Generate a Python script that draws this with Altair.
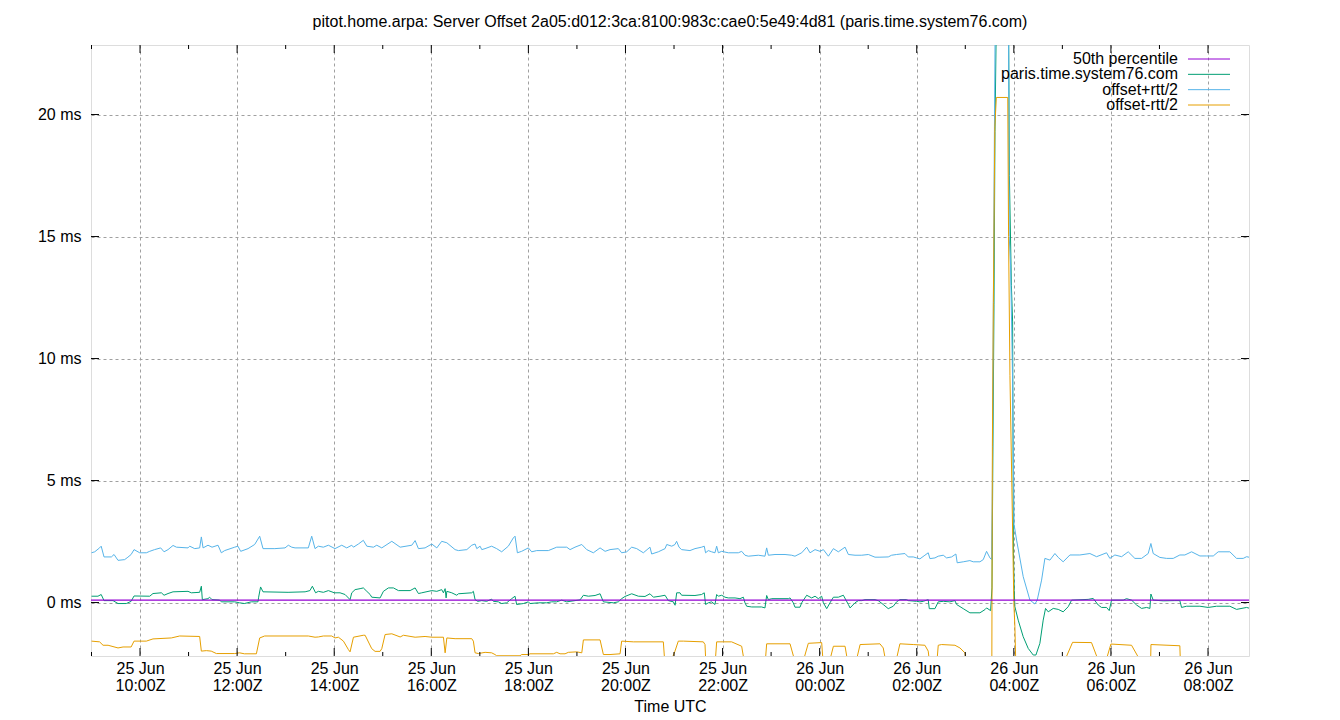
import altair as alt
import pandas as pd

# minutes after 25 Jun 09:00 UTC, value in ms
offset_pts = [
    (0, 0.26), (8, 0.26), (12, 0.33), (15.5, 0.08), (26.6, 0.08), (32.8, -0.04), (43, -0.04), (49, 0.05),
    (52.6, 0.27), (72, 0.26), (76, 0.37), (86.4, 0.40), (89.7, 0.30), (94.6, 0.37), (100.8, 0.44), (119.3, 0.46),
    (123.4, 0.40), (133.7, 0.42), (135.8, 0.67), (137, 0.12), (144, 0.16), (146, 0.22), (149, 0.12), (158.4, 0.10),
    (160.5, 0.03), (177, 0.03), (183, -0.01), (189, -0.04), (197.6, 0.03), (205.8, 0.03), (206.6, 0.22), (209, 0.64),
    (212, 0.44), (243, 0.42), (264, 0.44), (270, 0.49), (273, 0.67), (277, 0.40), (280.4, 0.46), (286.6, 0.42),
    (292.8, 0.49), (300.2, 0.40), (307.2, 0.40), (313.4, 0.33), (319.6, 0.12), (321.7, 0.40), (325.8, 0.53),
    (332, 0.57), (336, 0.60), (340.3, 0.46), (344.4, 0.33), (346.4, 0.22), (356.7, 0.19), (360.8, 0.46), (367, 0.60),
    (373.2, 0.60), (379.4, 0.49), (393.8, 0.49), (400, 0.60), (404.1, 0.37), (408.2, 0.40), (420.6, 0.49),
    (426.8, 0.46), (432.9, 0.53), (435, 0.40), (437.1, 0.57), (438.3, 0.19), (439.2, 0.46), (445.3, 0.40),
    (451.5, 0.30), (453.5, 0.36), (470, 0.40), (472, 0.46), (474.1, 0.12), (477.4, 0.05), (482.4, 0.08),
    (488.4, 0.05), (494.6, 0.14), (496.7, 0.05), (502.9, 0.03), (507, -0.04), (513.2, -0.01), (519.4, 0.16),
    (523.5, 0.26), (525.5, -0.08), (533.8, -0.04), (540, 0.03), (542, -0.04), (552.3, -0.01), (562.6, -0.01),
    (568.8, 0.03), (575, 0.03), (581.2, 0.10), (587.4, 0.03), (603.9, 0.11), (608, 0.30), (614.2, 0.26),
    (622.4, 0.29), (628.6, 0.36), (632.7, 0.03), (645, -0.01), (651.2, 0.03), (655.3, 0.16), (659.4, 0.25),
    (667.7, 0.36), (675.9, 0.26), (684.1, 0.25), (690.3, 0.36), (694.5, 0.22), (702.7, 0.26), (708.9, 0.30),
    (713, 0.08), (719.2, 0.03), (721.3, -0.11), (723.3, 0.40), (727.4, 0.40), (729.4, 0.30), (745.9, 0.29),
    (754.1, 0.33), (757.4, 0.40), (759, -0.08), (762.4, -0.01), (766.5, 0.03), (770.6, -0.08), (772.7, 0.33),
    (774.8, 0.26), (778.9, 0.30), (783, 0.22), (787.1, 0.19), (795.4, 0.19), (801.5, 0.16), (805.7, 0.22),
    (807.7, -0.01), (809.8, -0.15), (816, -0.18), (828.3, -0.18), (832.4, -0.22), (834.5, 0.29), (836.6, 0.12),
    (840.7, 0.16), (861.3, 0.16), (863.4, 0.19), (867.4, -0.01), (869.5, -0.19), (875.7, -0.19), (877.8, -0.01),
    (884, 0.30), (890.1, 0.19), (894.3, 0.26), (898.4, 0.16), (902.5, 0.26), (904.6, -0.01), (908.7, -0.25),
    (912.8, -0.01), (917, 0.22), (923.1, 0.22), (929.3, 0.30), (935.5, -0.08), (937.6, -0.22), (943.7, -0.01),
    (947.8, 0.08), (952, 0.08), (956.1, 0.12), (968.4, 0.12), (972.4, 0.08), (978.6, -0.08), (984.8, -0.25),
    (991, -0.15), (995.1, 0.03), (999.2, 0.12), (1007.5, 0.12), (1009.5, 0.08), (1019.8, 0.05), (1023.9, 0.03),
    (1028, 0.05), (1034.2, 0.12), (1035.5, -0.25), (1042.5, -0.25), (1046.6, 0.03), (1052.8, 0.05), (1061, 0.03),
    (1067.2, 0.08), (1069.3, -0.08), (1077.5, -0.25), (1085.7, -0.42), (1098.1, -0.42), (1104.3, -0.29),
    (1106.3, -0.22), (1111.3, -0.33), (1113, 0.6), (1114.2, 6.5), (1115.5, 12.2), (1116.7, 19.3), (1118, 22.85),
    (1119, 25.5), (1125, 27), (1131, 26), (1133.5, 24), (1134.5, 17.5), (1137, 13.0), (1138.5, 11.5),
    (1139.5, 2.0), (1140.5, 0.5), (1141.3, -0.17), (1145.4, -0.72), (1151.6, -1.40), (1157.8, -1.88),
    (1164, -2.15), (1167.3, -2.15), (1172.2, -1.67), (1176.3, -0.72), (1179.2, -0.24), (1182.5, -0.38),
    (1188.7, -0.24), (1194.9, -0.28), (1201, -0.38), (1207.2, -0.17), (1211.4, 0.10), (1231.9, 0.13),
    (1238.1, 0.17), (1244.3, -0.10), (1248.4, -0.20), (1254.6, -0.20), (1257.9, -0.33), (1260.8, 0.10),
    (1275.2, 0.10), (1279.3, 0.16), (1285.5, 0.10), (1291.7, -0.10), (1297.9, -0.24), (1304.1, -0.20),
    (1308.2, -0.24), (1309.4, 0.35), (1312.3, 0.10), (1324.6, 0.07), (1339, 0.08), (1345.2, 0.08),
    (1347.3, -0.20), (1353.5, -0.15), (1370, -0.15), (1380.2, -0.20), (1390.6, -0.15), (1407, -0.15),
    (1415.3, -0.28), (1427.7, -0.20), (1431.8, -0.24),
]

plus_pts = [
    (0, 2.04), (4, 2.08), (10, 2.24), (12, 2.31), (15.5, 1.87), (24.6, 1.87), (27.9, 1.97), (32.8, 1.73),
    (41, 1.76), (45, 1.86), (49, 1.97), (52.6, 2.17), (59.6, 2.04), (67.8, 2.04), (72, 2.10), (78, 2.17),
    (85.5, 2.24), (89.7, 2.08), (94.6, 2.17), (100.8, 2.34), (105, 2.27), (119.3, 2.24), (121.4, 2.31),
    (127.6, 2.21), (133.7, 2.24), (135.8, 2.69), (137.9, 2.24), (144, 2.35), (149, 2.27), (156.4, 2.35),
    (160.5, 2.04), (164.6, 2.13), (177, 2.27), (181, 2.31), (184.4, 2.10), (193.5, 2.21), (201.7, 2.38),
    (207.9, 2.72), (212, 2.21), (226.6, 2.21), (239.2, 2.24), (243.3, 2.35), (247.5, 2.27), (251.6, 2.24),
    (268, 2.24), (272.2, 2.72), (276.3, 2.21), (280.4, 2.31), (286.6, 2.27), (292.8, 2.35), (301, 2.21),
    (309.3, 2.35), (315.5, 2.24), (321.7, 2.35), (323.8, 2.27), (329.9, 2.40), (336, 2.55), (340.3, 2.31),
    (348.5, 2.27), (352.6, 2.35), (358.8, 2.24), (371.2, 2.51), (381.5, 2.27), (395.9, 2.35), (400, 2.54),
    (404.1, 2.21), (412.3, 2.24), (420.6, 2.40), (426.8, 2.24), (432.9, 2.51), (439.2, 2.45), (449.4, 2.17),
    (453.5, 2.13), (463.9, 2.17), (470, 2.35), (474.1, 2.40), (476.2, 2.21), (480.3, 2.31), (482.4, 2.17),
    (486.4, 2.21), (494.6, 2.31), (500.8, 2.21), (507, 2.08), (515.2, 2.31), (521.4, 2.65), (523.5, 2.72),
    (526.4, 2.04), (531.7, 2.10), (540, 2.24), (544.1, 2.08), (550.3, 2.13), (564.7, 2.13), (575, 2.27),
    (587.4, 2.27), (591.5, 2.17), (597.6, 2.27), (606, 2.38), (612.1, 2.17), (620.3, 2.04), (628.6, 2.24),
    (634.8, 2.10), (640.9, 2.17), (651.2, 2.21), (655.3, 2.04), (661.5, 2.08), (667.7, 2.27), (673.9, 2.21),
    (682.1, 2.04), (690.3, 2.27), (692.4, 1.99), (700.6, 2.08), (708.9, 2.21), (711, 2.38), (717.2, 2.31),
    (721.2, 2.38), (723.2, 2.51), (726.2, 2.27), (729.4, 2.17), (739.7, 2.13), (745.9, 2.21), (754.1, 2.27),
    (757.4, 2.31), (759, 2.04), (762.4, 2.13), (766.5, 2.08), (770.6, 2.04), (772.7, 2.31), (774.8, 2.04),
    (778.9, 2.10), (787.1, 2.04), (799.5, 2.04), (803.6, 2.10), (807.7, 1.94), (811.8, 1.90), (824.2, 1.94),
    (832.4, 1.90), (834.5, 2.24), (836.6, 1.94), (844.8, 1.97), (857.2, 1.97), (865.4, 1.94), (869.5, 1.90),
    (877.8, 2.04), (884, 2.27), (888.1, 2.04), (894.3, 2.17), (900.4, 2.10), (904.6, 2.17), (910.8, 1.90),
    (917, 2.21), (923.1, 2.08), (931.4, 2.27), (935.5, 1.97), (943.7, 1.94), (952, 1.94), (960.2, 1.97),
    (968.4, 1.86), (974.5, 1.86), (984.8, 1.87), (988.9, 1.94), (995.1, 1.97), (1005.4, 2.01), (1009.5, 1.87),
    (1015.7, 1.87), (1019.8, 1.83), (1023.9, 1.79), (1030.1, 1.94), (1034.2, 2.04), (1036.3, 1.80),
    (1042.5, 1.83), (1046.6, 1.90), (1052.8, 1.94), (1056.9, 1.83), (1063.1, 1.87), (1068.4, 1.99),
    (1070, 1.63), (1077.5, 1.67), (1085.7, 1.72), (1089.8, 1.67), (1098.1, 1.67), (1102.2, 1.76),
    (1106.3, 2.10), (1110.5, 1.83), (1112.5, 1.76), (1113.5, 5.0), (1114.7, 12.3), (1116, 19.3), (1117, 24),
    (1125, 27), (1133.3, 26), (1134.3, 15.0), (1136, 13.8), (1138.5, 9.1), (1140.3, 3.2), (1143.4, 2.56),
    (1151.6, 1.06), (1159.9, 0.10), (1166.1, -0.06), (1168.9, 0.10), (1174.3, 0.92), (1178.4, 1.81),
    (1184.6, 1.74), (1190.8, 2.01), (1194.9, 1.85), (1201, 1.67), (1209.3, 1.95), (1221.6, 1.95), (1234, 2.01),
    (1242.3, 1.88), (1254.6, 2.04), (1258.7, 1.81), (1264.9, 1.95), (1273.2, 1.88), (1281.4, 2.08),
    (1289.6, 1.81), (1297.9, 1.81), (1306.1, 2.01), (1309.4, 2.42), (1312.3, 2.01), (1320.5, 1.85),
    (1328.8, 1.81), (1337, 1.81), (1345.2, 1.95), (1351.4, 1.95), (1359.7, 2.08), (1370, 1.91), (1378.2, 1.91),
    (1386.5, 1.91), (1392.6, 2.08), (1407, 2.08), (1415.3, 1.81), (1423.5, 1.81), (1427.7, 1.88), (1431.8, 1.85),
]

minus_pts = [
    (0, -1.58), (10, -1.61), (14.3, -1.75), (20.5, -1.75), (32.8, -1.86), (39, -1.82), (49, -1.82),
    (52.6, -1.58), (67.8, -1.58), (76, -1.49), (98.7, -1.45), (109, -1.37), (133.7, -1.39), (135.8, -1.99),
    (142, -1.97), (148, -1.99), (154.4, -2.09), (177, -2.09), (183, -2.06), (189, -2.10), (203.8, -2.10),
    (207.9, -1.45), (214, -1.37), (268, -1.37), (276.3, -1.42), (280.4, -1.41), (286.6, -1.37), (296.9, -1.37),
    (301, -1.45), (305.2, -1.42), (311.4, -1.58), (317.6, -1.93), (319.6, -2.02), (323.8, -1.42), (336, -1.34),
    (338.2, -1.34), (346.4, -1.89), (350.5, -2.0), (356.7, -2.0), (358.8, -1.89), (362.9, -1.31), (371.2, -1.28),
    (381.5, -1.41), (385.6, -1.34), (400, -1.42), (412.3, -1.39), (420.6, -1.42), (435, -1.42), (437.1, -2.06),
    (439.2, -1.45), (449.4, -1.48), (470, -1.48), (472, -1.58), (474.1, -2.06), (478.3, -2.09), (486.5, -2.04),
    (494.6, -2.06), (498.7, -2.13), (500.8, -2.18), (529.7, -2.18), (531.7, -2.13), (540, -2.13), (542, -2.10),
    (570.9, -2.10), (575, -2.04), (579.1, -2.10), (585.3, -2.10), (589.4, -2.04), (599.7, -2.02), (606, -2.06),
    (608, -1.53), (628.6, -1.53), (632.7, -2.13), (640.9, -2.13), (653.3, -2.10), (655.3, -1.58), (669.7, -1.61),
    (706.8, -1.61), (708.9, -2.6), (714, -2.6), (721.2, -1.99), (725.3, -1.58), (731.5, -1.58), (756.2, -1.61),
    (758.3, -1.72), (759.5, -2.6), (770.6, -2.6), (772.7, -1.61), (791.2, -1.61), (803.6, -1.79), (807.7, -2.6),
    (832.4, -2.6), (834.5, -1.69), (863.4, -1.69), (871, -2.6), (878, -2.6), (886, -1.67), (902.5, -1.64),
    (904.6, -2.6), (910.8, -2.6), (917, -1.79), (931.4, -1.79), (935.5, -2.6), (943.7, -2.6), (950, -1.72),
    (974.5, -1.69), (978.6, -1.86), (982.7, -2.6), (993, -2.6), (999.2, -1.69), (1015.7, -1.72),
    (1030.1, -1.75), (1034.2, -1.99), (1036.3, -2.6), (1044.5, -2.6), (1046.6, -1.75), (1050.7, -1.72),
    (1067.2, -1.75), (1073.4, -1.86), (1079.5, -2.06), (1082, -2.6), (1112.8, -2.6), (1113.5, 6.4),
    (1114.7, 12.3), (1116.5, 19.5), (1118.4, 20.7), (1132.5, 20.7), (1133.5, 15.0), (1135.2, 9.3),
    (1137.6, 4.7), (1140, 0.0), (1141.3, -0.99), (1142.5, -2.6), (1200, -2.6), (1212.6, -1.63), (1236, -1.64),
    (1247, -2.6), (1252, -2.6), (1260, -1.70), (1285.5, -1.75), (1300, -2.6), (1309, -2.6), (1309.5, -1.72),
    (1345.2, -1.77), (1346, -2.6), (1431.8, -2.6),
]

median_pts = [(-1, 0.1), (1432, 0.1)]

series_names = ["50th percentile", "paris.time.system76.com", "offset+rtt/2", "offset-rtt/2"]
series_colors = ["#9400d3", "#009e73", "#56b4e9", "#e69f00"]
y_tick_values = [0, 5, 10, 15, 20]

START = pd.Timestamp("2024-06-25T09:00:00Z")


def iso(m):
    return (START + pd.Timedelta(minutes=m)).strftime("%Y-%m-%dT%H:%M:%S.%f")[:-3] + "Z"


def ms(ts):
    return int(ts.value // 10**6)


rows = []
for name, pts in zip(series_names, [median_pts, offset_pts, plus_pts, minus_pts]):
    for m, v in pts:
        rows.append({"t": iso(m), "v": v, "series": name})
df = pd.DataFrame(rows)

hours = [START + pd.Timedelta(hours=h) for h in range(0, 24)]
major_ticks = [h for h in hours if h.hour % 2 == 0]
minor_ticks = [h for h in hours if h.hour % 2 == 1]
major_df = pd.DataFrame({"t": [h.strftime("%Y-%m-%dT%H:%M:%SZ") for h in major_ticks]})
minor_df = pd.DataFrame({"t": [h.strftime("%Y-%m-%dT%H:%M:%SZ") for h in minor_ticks]})
ytick_df = pd.DataFrame({"v": y_tick_values})
legend_df = pd.DataFrame({"label": series_names})

W, H = 1158, 611
FONT = "Liberation Sans"
FS = 16

x_domain = [ms(START - pd.Timedelta(seconds=36)), ms(START + pd.Timedelta(minutes=1430, seconds=40))]
xscale = alt.Scale(type="utc", domain=x_domain)
yscale = alt.Scale(domain=[-2.19, 22.85], nice=False, zero=False)

xaxis = alt.Axis(
    values=[ms(h) for h in major_ticks],
    labelExpr="[utcFormat(datum.value, '%d %b'), utcFormat(datum.value, '%H:%MZ')]",
    grid=True, gridDash=[3, 3], gridColor="#a0a0a0", gridWidth=1,
    ticks=False, domain=False,
    labelFont=FONT, labelFontSize=FS, labelColor="black", labelPadding=4,
    labelLineHeight=17, labelBaseline="top",
    title="Time UTC", titleFont=FONT, titleFontSize=FS, titleFontWeight="normal",
    titleColor="black", titlePadding=5,
)
yaxis = alt.Axis(
    values=y_tick_values, labelExpr="datum.value + ' ms'",
    grid=True, gridDash=[3, 3], gridColor="#a0a0a0", gridWidth=1,
    ticks=False, domain=False, title=None,
    labelFont=FONT, labelFontSize=FS, labelColor="black", labelPadding=10,
)

X = alt.X("t:T", scale=xscale, axis=xaxis)
Y = alt.Y("v:Q", scale=yscale, axis=yaxis)
color_scale = alt.Scale(domain=series_names, range=series_colors)


def line_layer(name, width=1):
    return (
        alt.Chart(df)
        .transform_filter(alt.datum.series == name)
        .mark_line(clip=True, strokeWidth=width, interpolate="linear")
        .encode(x=X, y=Y, color=alt.Color("series:N", scale=color_scale, legend=None))
    )


lines = [
    line_layer("paris.time.system76.com"),
    line_layer("offset+rtt/2"),
    line_layer("offset-rtt/2"),
    line_layer("50th percentile", 1.3),
]

tick_layers = [
    alt.Chart(major_df).mark_rule(color="black").encode(x=X, y=alt.value(H), y2=alt.value(H - 8)),
    alt.Chart(major_df).mark_rule(color="black").encode(x=X, y=alt.value(0), y2=alt.value(8)),
    alt.Chart(minor_df).mark_rule(color="black", clip=True).encode(x=X, y=alt.value(H), y2=alt.value(H - 4)),
    alt.Chart(minor_df).mark_rule(color="black", clip=True).encode(x=X, y=alt.value(0), y2=alt.value(4)),
    alt.Chart(ytick_df).mark_rule(color="black").encode(y=Y, x=alt.value(0), x2=alt.value(8)),
    alt.Chart(ytick_df).mark_rule(color="black").encode(y=Y, x=alt.value(W - 8), x2=alt.value(W)),
]

main = alt.layer(*lines, *tick_layers)

leg_y = alt.Y("label:N", scale=alt.Scale(type="point", domain=series_names, range=[14, 60], padding=0), axis=None)
legend_text = alt.Chart(legend_df).mark_text(
    align="right", baseline="middle", font=FONT, fontSize=FS, color="black"
).encode(y=leg_y, x=alt.value(1087), text="label:N")
legend_rule = alt.Chart(legend_df).mark_rule(strokeWidth=1).encode(
    y=leg_y, x=alt.value(1097), x2=alt.value(1139),
    color=alt.Color("label:N", scale=color_scale, legend=None),
)
legend = alt.layer(legend_text, legend_rule)

chart = (
    alt.layer(main, legend)
    .resolve_scale(y="independent")
    .properties(
        width=W, height=H,
        title=alt.Title(
            "pitot.home.arpa: Server Offset 2a05:d012:3ca:8100:983c:cae0:5e49:4d81 (paris.time.system76.com)",
            font=FONT, fontSize=FS, fontWeight="normal", color="black", anchor="middle",
            baseline="bottom", offset=-1,
        ),
        autosize=alt.AutoSizeParams(type="none"),
        padding={"left": 83, "top": 37, "right": 60, "bottom": 64},
        background="white",
    )
    .configure_view(stroke="black", strokeWidth=1)
    .configure(font=FONT)
)

chart.save("out.html", embed_options={"renderer": "svg", "actions": False})
